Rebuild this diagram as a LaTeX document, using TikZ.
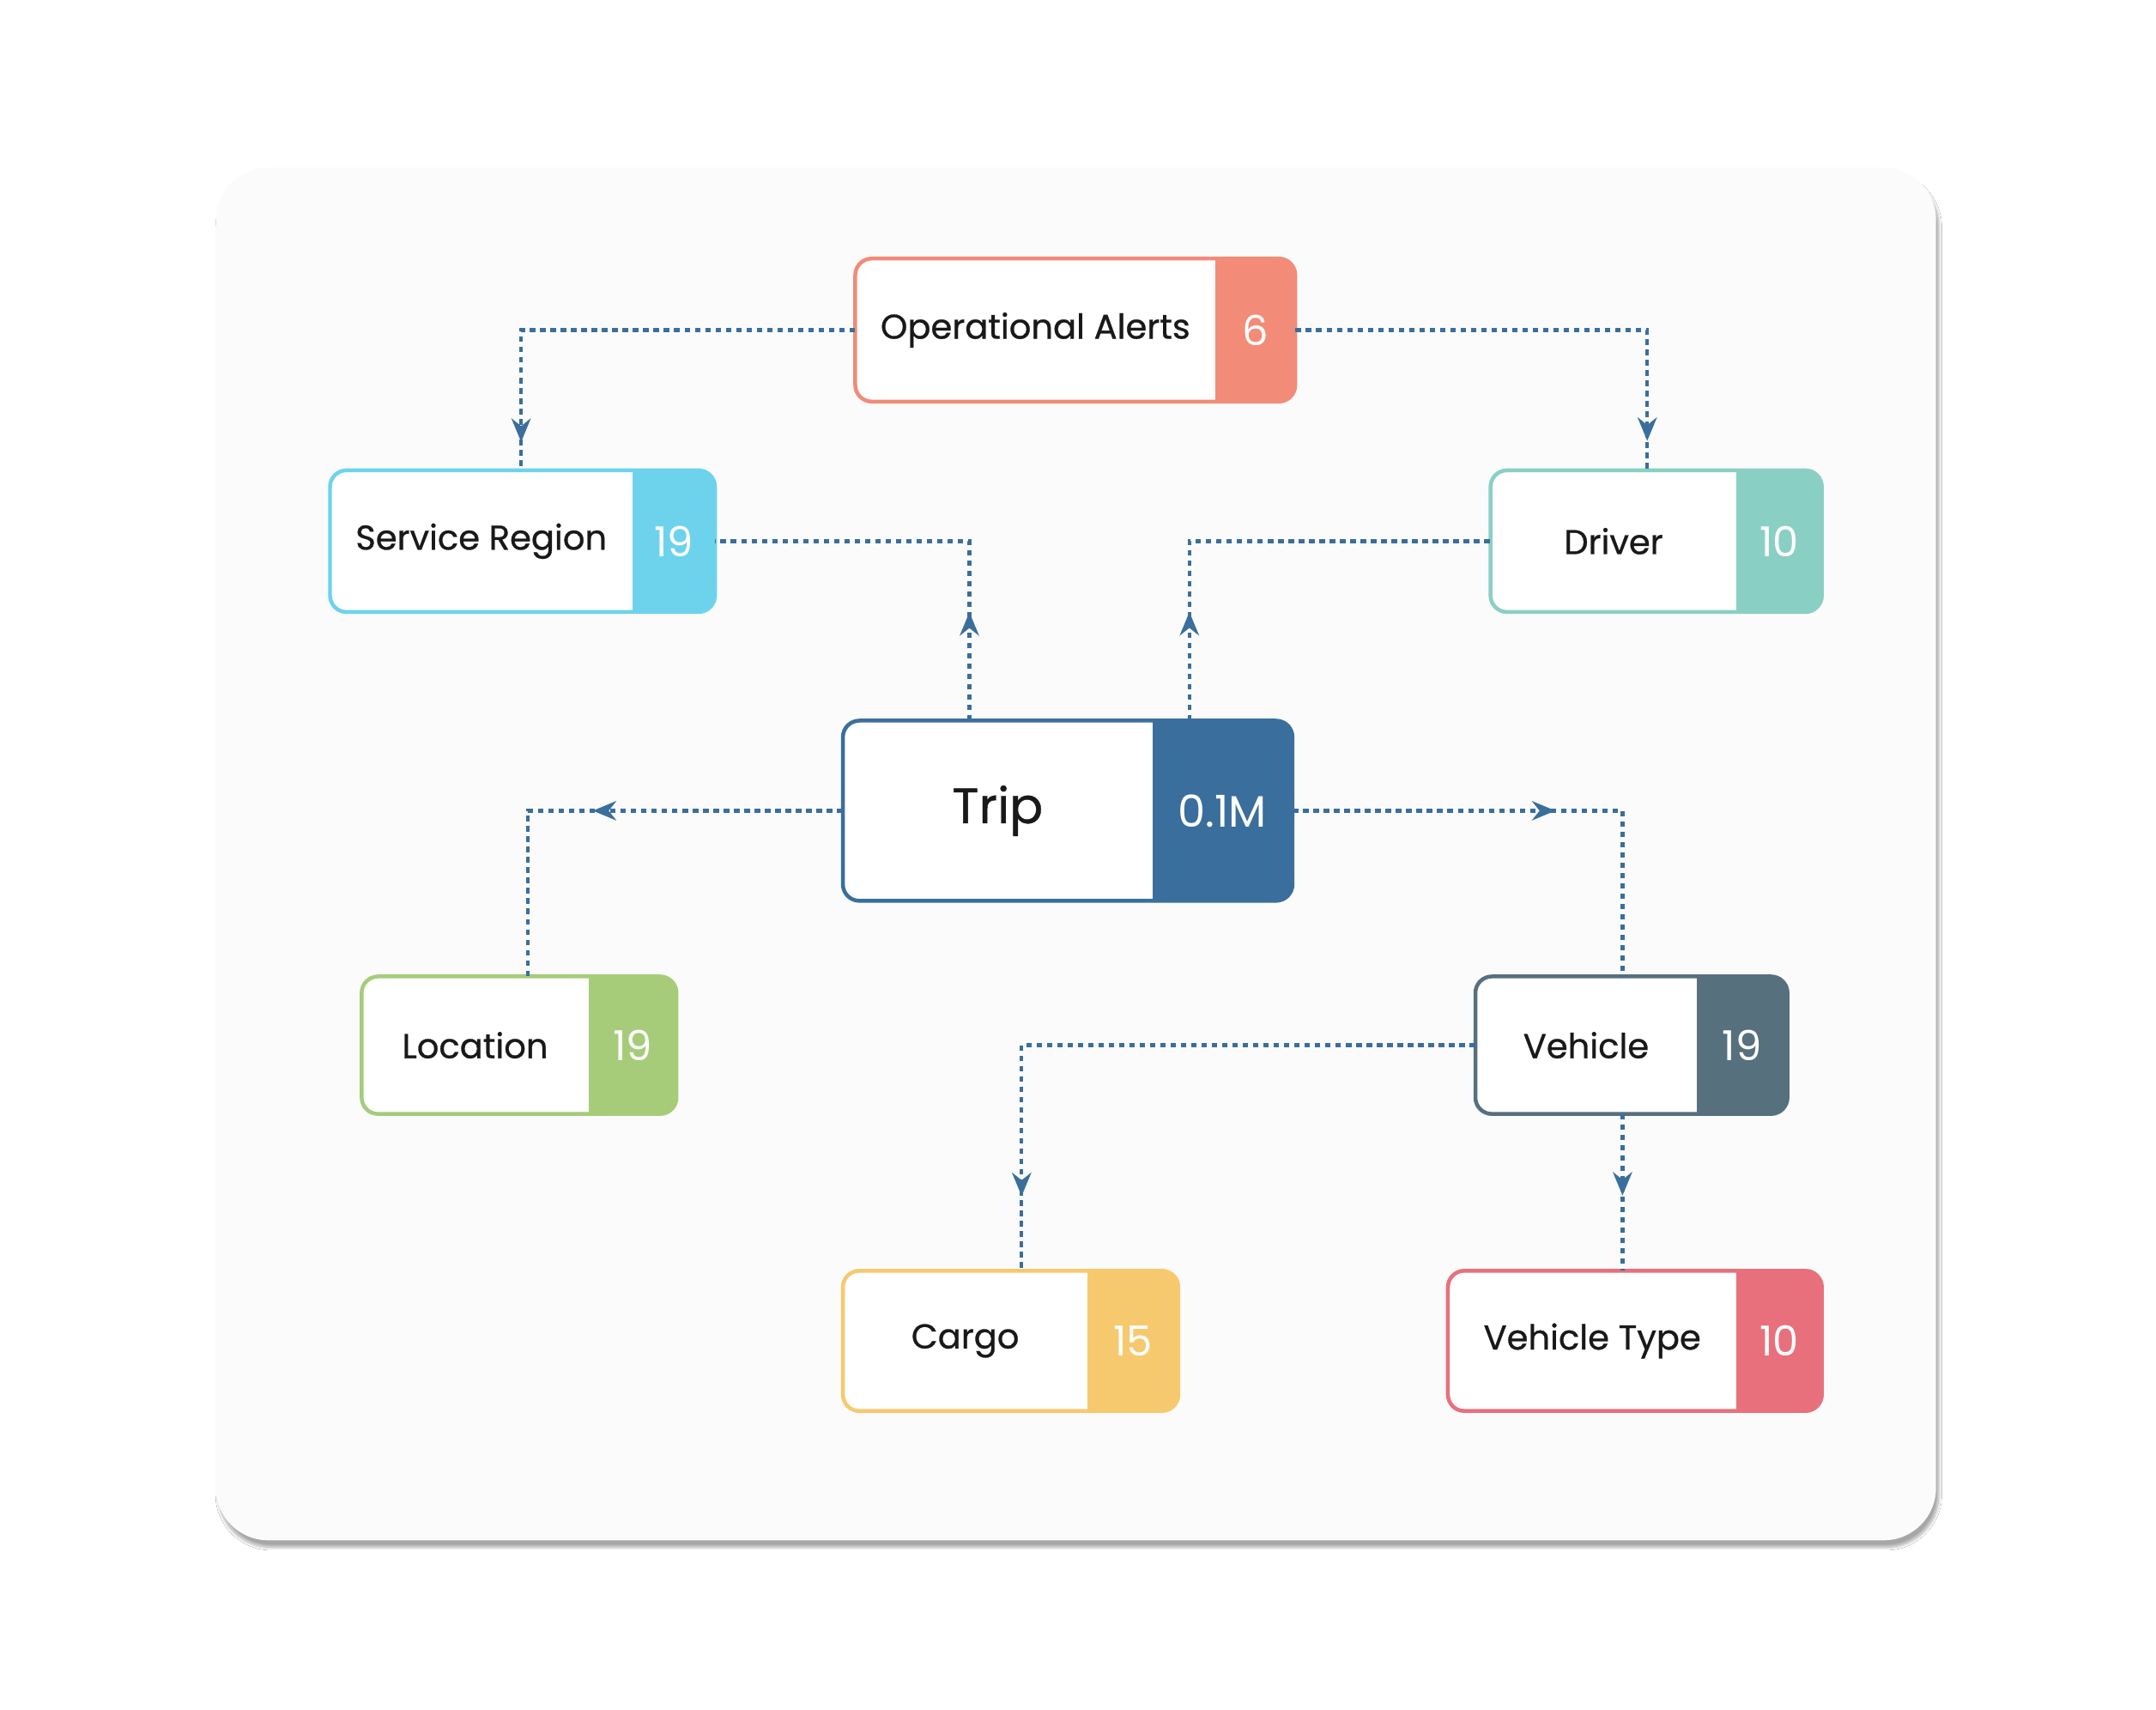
\documentclass[tikz,border=0pt]{standalone}
\usepackage{fontspec}
\setmainfont{Poppins}
\newfontfamily\med{Poppins}[FakeBold=0.7]
\usetikzlibrary{calc,fit,shadows.blur,decorations.markings,arrows.meta}
\definecolor{conn}{HTML}{3A6E9C}
\definecolor{cOA}{HTML}{F28B78}
\definecolor{cSR}{HTML}{6DD3EC}
\definecolor{cDR}{HTML}{8ACFC4}
\definecolor{cTR}{HTML}{3A6E9C}
\definecolor{cLO}{HTML}{A6CC7A}
\definecolor{cVE}{HTML}{56707D}
\definecolor{cCA}{HTML}{F7C96E}
\definecolor{cVT}{HTML}{E8707C}
\def\lf{\med\fontsize{25}{28}\selectfont}
\def\nf{\fontsize{30}{34}\selectfont}
\newcommand\ent[9]{%
 \begin{scope}\clip[rounded corners=12pt] (#2,#3) rectangle (#4,#5);
 \fill[white] (#2,#3) rectangle (#4,#5); \fill[#7] (#6,#3) rectangle (#4,#5);\end{scope}
 \draw[#7, line width=2.8pt, rounded corners=12pt] (#2,#3) rectangle (#4,#5);
 \node[fit={(#2,#3) (#4,#5)}, inner sep=0pt] (#1) {};
 \node[font=\lf, text=black!90] at ($(#2,#3)!.5!(#6,#5)$) {#8};
 \node[font=\nf, text=white] at ($(#6,#3)!.5!(#4,#5)$) {#9};}
\tikzset{
 link/.style={conn, line width=2.6pt, dash pattern=on 4pt off 3.5pt, postaction={decorate},
  decoration={markings, mark=at position #1 with {\arrow[solid]{Stealth[length=17pt,width=14pt]}}}}
}
\begin{document}
\begin{tikzpicture}[x=1pt,y=-1pt]
\useasboundingbox (0,0) rectangle (1568,1243);
\fill[white] (0,0) rectangle (1568,1243);
\fill[rounded corners=38pt, fill=black!1.5, blur shadow={shadow blur steps=10, shadow xshift=2pt, shadow yshift=-5pt, shadow opacity=35}] (157,122) rectangle (1408,1120);
\ent{oa}{622}{188}{942}{292}{884}{cOA}{Operational Alerts}{6}
\ent{sr}{240}{342}{520}{445}{460}{cSR}{Service Region}{19}
\ent{dr}{1084}{342}{1325}{445}{1263}{cDR}{Driver}{10}
\ent{lo}{263}{710}{492}{810}{428}{cLO}{Location}{19}
\ent{ve}{1073}{710}{1300}{810}{1234}{cVE}{Vehicle}{19}
\ent{ca}{613}{924}{857}{1026}{791}{cCA}{Cargo}{15}
\ent{vt}{1053}{924}{1325}{1026}{1263}{cVT}{Vehicle Type}{10}
{\def\lf{\med\fontsize{36}{40}\selectfont}\def\nf{\fontsize{32}{36}\selectfont}
\ent{tr}{613}{524}{940}{655}{838}{cTR}{Trip}{0.1M}}
% connectors
\coordinate (srN) at (379,342);
\coordinate (drN) at (1198,342);
\coordinate (trA) at (705,524);
\coordinate (trB) at (865,524);
\coordinate (loN) at (384,710);
\coordinate (veN) at (1180,710);
\coordinate (veS) at (1180,810);
\coordinate (caN) at (743,924);
\coordinate (vtN) at (1180,924);
\draw[link=0.94] (oa.west) -| (srN);
\draw[link=0.94] (oa.east) -| (drN);
\draw[link=0.25] (trA) |- (sr.east);
\draw[link=0.226] (trB) |- (dr.west);
\draw[link=0.52] (tr.west) -| (loN);
\draw[link=0.53] (tr.east) -| (veN);
\draw[link=0.89] (ve.west) -| (caN);
\draw[link=0.52] (veS) -- (vtN);
\end{tikzpicture}
\end{document}
